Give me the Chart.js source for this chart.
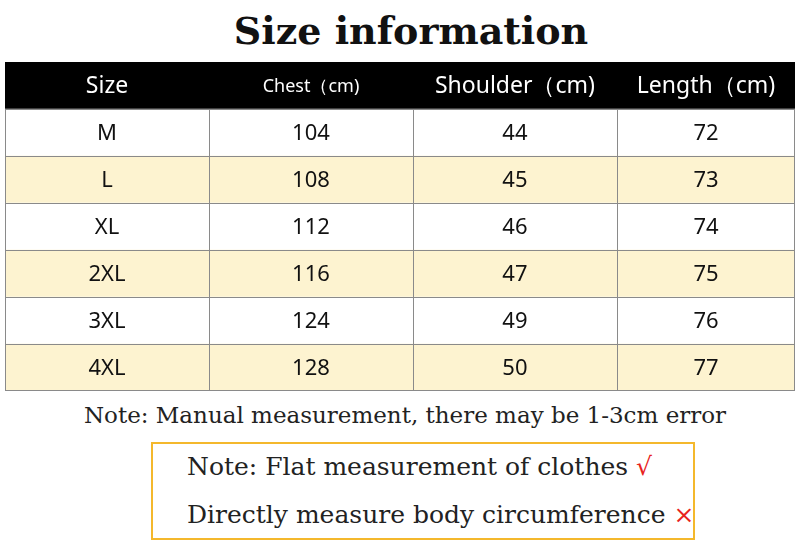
<!DOCTYPE html>
<html><head><meta charset="utf-8">
<script src="https://cdn.jsdelivr.net/npm/chart.js@4"></script>
<style>
body{margin:0;background:#fff;width:800px;height:560px;position:relative;overflow:hidden}
#t{position:absolute;top:8px;left:0;width:822px;text-align:center;font:bold 38px "DejaVu Serif",serif;color:#111}
#wrap{position:absolute;left:5px;top:62px;width:790px;height:329px}
#n1{position:absolute;top:402px;left:0;width:810px;text-align:center;font:23px "DejaVu Serif",serif;color:#222}
#box{position:absolute;left:151px;top:442px;width:540px;height:94px;border:2.5px solid #f4b82c}
.l{position:absolute;left:34px;font:25px "DejaVu Serif",serif;color:#222;white-space:nowrap}
</style></head><body>
<div id="t">Size information</div>
<div id="wrap"><canvas id="c"></canvas></div>
<div id="n1">Note: Manual measurement, there may be 1-3cm error</div>
<div id="box"><div class="l" style="top:8px">Note: Flat measurement of clothes <span style="color:#e8231d">√</span></div>
<div class="l" style="top:56px">Directly measure body circumference <span style="color:#e8231d">×</span></div></div>
<script>
const headers=["Size","Chest（cm)","Shoulder（cm)","Length（cm)"];
const sizes=["M","L","XL","2XL","3XL","4XL"];
const chest=[104,108,112,116,124,128];
const shoulder=[44,45,46,47,49,50];
const length=[72,73,74,75,76,77];
const colEdges=[0,1,2,3,3.873];
const rowColors=["#000000","#ffffff","#fdf3d0","#ffffff","#fdf3d0","#ffffff","#fdf3d0"];
const rows=["H"].concat(sizes);
const maxX=colEdges[colEdges.length-1];
const tablePlugin={id:"tbl",afterDatasetsDraw(ch){
 const c=ch.ctx,x=ch.scales.x,y=ch.scales.y;
 const top=ch.chartArea.top,bot=ch.chartArea.bottom,l=ch.chartArea.left,r=ch.chartArea.right;
 const rh=(bot-top)/rows.length;
 c.save();c.strokeStyle="#8a8a8a";c.lineWidth=1;
 for(let i=1;i<rows.length;i++){const py=Math.round(top+rh*i)+0.5;c.beginPath();c.moveTo(l,py);c.lineTo(r,py);c.stroke();}
 colEdges.forEach(e=>{const px=Math.round(x.getPixelForValue(e))+(e===maxX?-0.5:0.5);c.beginPath();c.moveTo(px,top+rh);c.lineTo(px,bot);c.stroke();});
 c.beginPath();c.moveTo(l,bot-0.5);c.lineTo(r,bot-0.5);c.stroke();
 c.textAlign="center";c.textBaseline="middle";
 const cols=[sizes,chest,shoulder,length];
 for(let j=0;j<4;j++){
  const cx=x.getPixelForValue((colEdges[j]+colEdges[j+1])/2);
  c.fillStyle="#fff";c.font=(j==1?"18px":"23px")+' "Noto Sans",sans-serif';
  c.fillText(headers[j],cx,y.getPixelForValue(0)+1);
  c.fillStyle="#111";c.font='22px "Noto Sans",sans-serif';
  cols[j].forEach((v,i)=>c.fillText(String(v),cx,y.getPixelForValue(i+1)+1));
 }
 c.restore();}};
new Chart(document.getElementById("c"),{type:"bar",
 data:{labels:rows,datasets:[{data:rows.map(()=>[0,maxX]),backgroundColor:rowColors,barPercentage:1,categoryPercentage:1,borderWidth:0}]},
 options:{indexAxis:"y",responsive:true,maintainAspectRatio:false,animation:false,
  layout:{padding:0},plugins:{legend:{display:false},tooltip:{enabled:false}},
  scales:{x:{type:"linear",min:0,max:maxX,display:false},y:{display:false}}},
 plugins:[tablePlugin]});
</script></body></html>
